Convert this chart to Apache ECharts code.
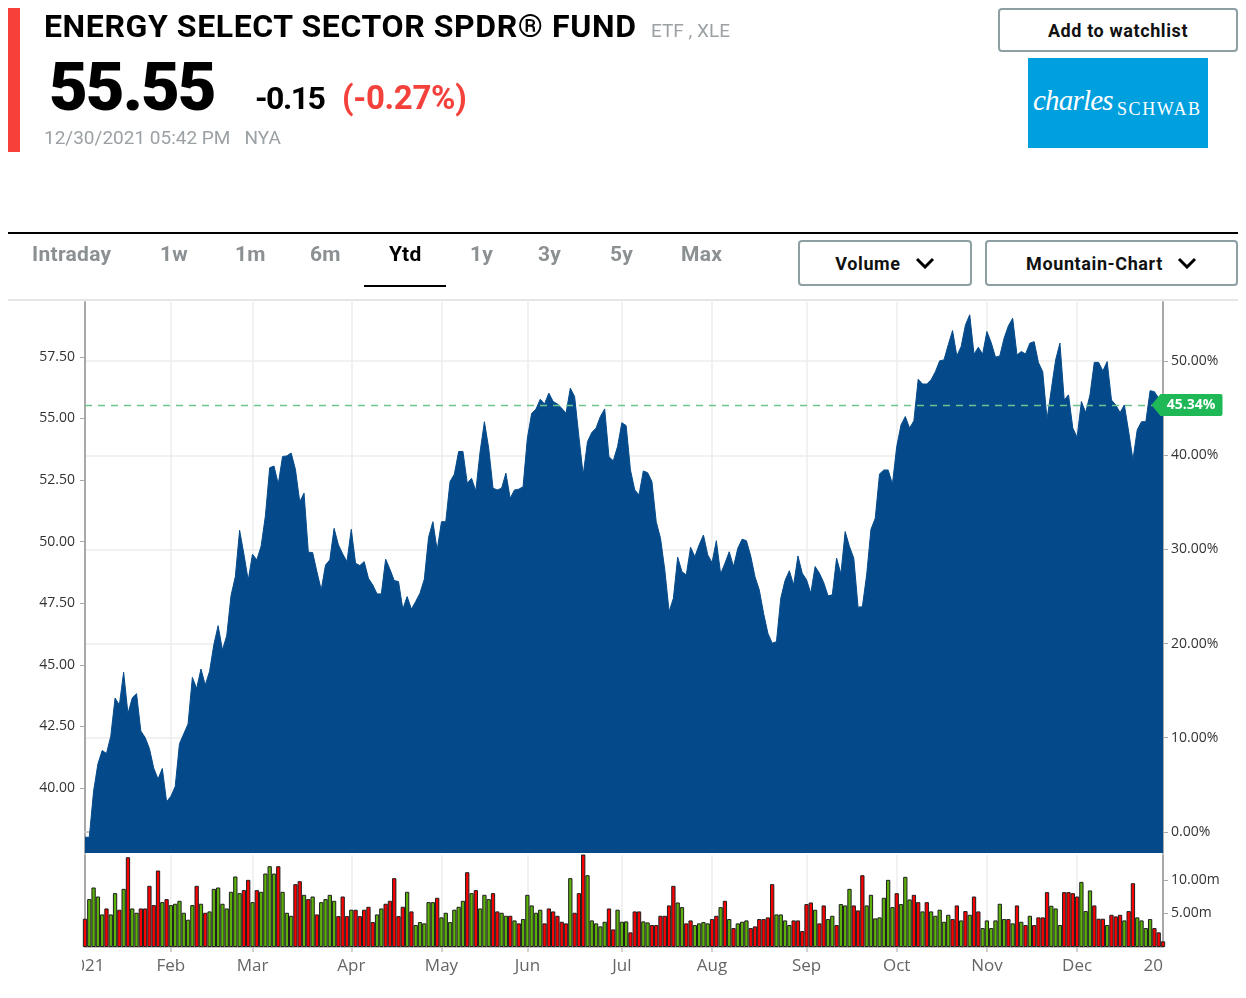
<!DOCTYPE html>
<html>
<head>
<meta charset="utf-8">
<title>XLE Ytd</title>
<script src="https://cdn.jsdelivr.net/npm/echarts@6/dist/echarts.min.js"></script>
<style>
    html, body {margin: 0; padding: 0; background: #fff;}
    body {width: 1246px; height: 998px; position: relative; overflow: hidden; font-family: Roboto, "Noto Sans", sans-serif;}
    #chart {position: absolute; left: 0; top: 0; width: 1246px; height: 998px;}
    .abs {position: absolute; white-space: nowrap; z-index: 2;}
    .redbar {left: 8px; top: 8px; width: 12px; height: 144px; background: #f8403a;}
    .title {left: 44px; top: 10px; font-size: 32px; line-height: 32px; font-weight: 700; color: #000; letter-spacing: 0.6px;}
    .kind {left: 651px; top: 21px; font-size: 19px; line-height: 19px; color: #9ba1a4;}
    .last {left: 49px; top: 54px; font-size: 67px; line-height: 67px; font-weight: 900; color: #000; letter-spacing: -2px;}
    .chg {left: 255px; top: 82px; font-size: 32px; line-height: 32px; font-weight: 700; color: #000; letter-spacing: -1.5px;}
    .pct {left: 342px; top: 81px; font-size: 33px; line-height: 33px; font-weight: 700; color: #f5413b; letter-spacing: -0.3px;}
    .stamp {left: 44px; top: 128px; font-size: 19px; line-height: 19px; color: #9ba1a4;}
    .btn {border: 2px solid #8e9fa4; border-radius: 4px; box-sizing: border-box; display: flex; align-items: center; justify-content: center; font-weight: 700; font-size: 18px; color: #111; letter-spacing: 0.6px; background: #fff;}
    .watch {left: 998px; top: 8px; width: 240px; height: 44px;}
    .logo {left: 1028px; top: 58px; width: 180px; height: 90px; background: #00a0df; color: #fff;}
    .logo .c {position: absolute; left: 5px; top: 28px; font-family: "Liberation Serif", "DejaVu Serif", serif; font-style: italic; font-size: 29px; line-height: 29px; letter-spacing: -0.8px;}
    .logo .s {position: absolute; left: 89px; top: 42px; font-family: "Liberation Serif", "DejaVu Serif", serif; font-size: 18px; line-height: 18px; letter-spacing: 1.6px;}
    .rule {left: 8px; top: 232px; width: 1230px; height: 2px; background: #000;}
    .rule2 {left: 8px; top: 299px; width: 1230px; height: 2px; background: #e6e6e6;}
    .tab {top: 244px; font-size: 21px; line-height: 21px; font-weight: 700; color: #8b9093; letter-spacing: 0.3px;}
    .tab.on {color: #000;}
    .uline {left: 364px; top: 285px; width: 82px; height: 2px; background: #000;}
    .drop {top: 240px; height: 46px;}
    .drop svg {margin-left: 14px;}
    .vol {left: 798px; width: 174px;}
    .mtn {left: 985px; width: 253px;}
</style>
</head>
<body>
<div class="abs redbar"></div>
<div class="abs title">ENERGY SELECT SECTOR SPDR® FUND</div>
<div class="abs kind">ETF , XLE</div>
<div class="abs last">55.55</div>
<div class="abs chg">-0.15</div>
<div class="abs pct">(-0.27%)</div>
<div class="abs stamp">12/30/2021 05:42 PM&nbsp;&nbsp; NYA</div>
<div class="abs btn watch">Add to watchlist</div>
<div class="abs logo"><span class="c">charles</span><span class="s">SCHWAB</span></div>
<div class="abs rule"></div>
<div class="abs tab" style="left:32px">Intraday</div>
<div class="abs tab" style="left:160px">1w</div>
<div class="abs tab" style="left:235px">1m</div>
<div class="abs tab" style="left:310px">6m</div>
<div class="abs tab on" style="left:389px">Ytd</div>
<div class="abs tab" style="left:470px">1y</div>
<div class="abs tab" style="left:538px">3y</div>
<div class="abs tab" style="left:610px">5y</div>
<div class="abs tab" style="left:681px">Max</div>
<div class="abs uline"></div>
<div class="abs btn drop vol">Volume<svg width="20" height="12" viewBox="0 0 20 12"><path d="M2 2 L10 10 L18 2" fill="none" stroke="#000" stroke-width="3"/></svg></div>
<div class="abs btn drop mtn">Mountain-Chart<svg width="20" height="12" viewBox="0 0 20 12"><path d="M2 2 L10 10 L18 2" fill="none" stroke="#000" stroke-width="3"/></svg></div>
<div class="abs rule2"></div>
<div id="chart"></div>
<script>
// NYSE closed days in 2021; the first point is the 2020 close
const firstDate = '2020-12-31';
const lastDate = '2021-12-30';
const holidays = ['2021-01-01', '2021-01-18', '2021-02-15', '2021-04-02', '2021-05-31',
    '2021-07-05', '2021-09-06', '2021-11-25', '2021-12-24'];
const monthNames = ['Jan', 'Feb', 'Mar', 'Apr', 'May', 'Jun', 'Jul', 'Aug', 'Sep', 'Oct', 'Nov', 'Dec'];
const startYearLabel = '2021';
const endYearLabel = '2022';

const baseClose = 38.22;
const lastClose = 55.55;

const close = [
    38.0, 38.0, 39.87, 40.97, 41.52, 41.4, 42.1, 43.65, 43.37, 44.7, 43.02, 43.65, 43.83, 42.31, 42.05,
    41.6, 40.81, 40.36, 40.79, 39.44, 39.66, 40.06, 41.8, 42.2, 42.6, 44.49, 44.04, 44.83, 44.18, 44.73,
    45.82, 46.59, 45.6, 46.18, 47.81, 48.58, 50.46, 49.49, 48.43, 49.49, 49.26, 49.81, 51.04, 53.0, 53.07,
    52.34, 53.46, 53.48, 53.6, 52.93, 51.62,
    51.97, 49.57, 49.56, 48.78, 48.04, 49.05, 49.26, 50.54, 49.87, 49.5, 49.19, 50.5, 49.12, 49.03, 49.19,
    48.51, 48.24, 47.88, 47.88, 49.29, 48.88, 48.42, 48.38, 47.26, 47.77, 47.26, 47.57, 47.91, 48.47, 50.18,
    50.81, 49.66, 50.81, 50.81, 52.44, 52.74, 53.66, 53.66, 52.37, 52.57, 52.06, 53.66, 54.87, 53.79, 52.17,
    52.1, 52.17, 52.78, 51.76,
    52.1, 52.13, 52.23, 54.2, 55.21, 55.38, 55.78, 55.59, 56.03, 55.69, 55.59, 55.42, 55.21, 56.23, 55.89,
    54.26, 52.71, 54.06, 54.43, 54.61, 55.08, 55.39, 53.45, 53.28, 53.86, 54.83, 54.71, 52.91, 52.1, 51.9,
    52.87, 52.8, 52.44, 50.81, 50.14, 48.85, 47.16, 47.7, 49.37, 48.78, 48.65, 49.77, 49.39, 49.87, 50.27,
    49.46, 49.15, 50.04, 48.69,
    49.12, 49.59, 48.99, 49.73, 50.1, 50.04, 49.42, 48.58, 48.04, 47.09, 46.28, 45.88, 45.94, 47.7, 48.42,
    48.82, 48.24, 49.42, 48.72, 48.45, 47.91, 48.99, 48.72, 48.34, 47.8, 47.84, 49.33, 48.69, 50.41, 49.8,
    49.33, 47.34, 47.36, 48.65, 50.5, 50.95, 52.75, 52.91, 52.91, 52.34, 53.86, 54.74, 55.08, 54.61, 54.91,
    56.59, 56.4, 56.4, 56.57,
    56.9, 57.34, 57.38, 57.99, 58.57, 57.54, 57.92, 58.8, 59.21, 57.61, 57.89, 57.61, 58.53, 58.08, 57.49,
    57.54, 58.26, 58.76, 59.07, 57.58, 57.72, 57.62, 58.06, 58.12, 57.27, 56.9, 54.97, 56.19, 57.38, 58.06,
    55.75, 55.96, 54.61, 54.24, 55.69, 55.24, 55.96, 57.28, 57.28, 56.93, 57.31, 55.75, 55.55, 55.24, 55.55,
    54.47, 53.32, 54.54, 54.87, 54.87, 56.13, 56.09, 55.82, 55.55,
];

// millions of shares
const volume = [
    4.21, 7.13, 8.86, 7.52, 4.85, 5.74, 4.85, 8.02, 5.55, 8.66, 13.37, 5.74, 5.1, 5.74, 5.74, 9.11, 6.24,
    11.39, 6.68, 7.13, 6.24, 6.44, 6.88, 5.1, 4.06, 6.24, 9.11, 6.44, 5.1, 5.3, 8.66, 8.86, 6.44, 5.74, 8.22,
    10.5, 8.02, 8.47, 10.0, 6.68, 8.47, 8.22, 10.94, 12.03, 10.94, 12.03, 8.22, 5.1, 4.65, 9.36, 9.8, 7.77,
    7.13, 7.52, 4.85, 6.68, 7.13, 7.77, 6.88, 4.6, 7.52, 4.6, 5.55, 5.55, 4.6, 5.55, 5.99, 3.71, 4.85, 5.74,
    6.44, 6.88, 10.25, 4.6, 5.99, 8.22, 5.3, 3.27, 3.71, 3.52, 6.68, 6.68, 7.33, 4.41, 5.1, 3.71, 5.55, 5.99,
    6.88, 11.14, 8.02, 8.47, 5.74, 7.77, 7.13, 8.02, 5.3, 5.1, 4.65, 4.65, 3.96, 3.52, 4.16, 7.77, 6.19, 5.1,
    5.55, 3.52, 5.74, 5.3, 4.65, 3.76, 3.52, 10.25, 5.1, 8.02, 13.86, 10.69, 3.96, 3.52, 3.07, 3.76, 5.74,
    2.62, 5.55, 3.76,
    3.81, 2.18, 5.3, 5.3, 3.81, 3.66, 3.27, 3.27, 4.65, 4.65, 6.19, 9.11, 6.63, 5.94, 3.52, 3.96, 3.27, 3.52,
    3.71, 3.52, 4.16, 4.65, 5.94, 6.88, 4.16, 2.82, 3.52, 3.76, 3.96, 2.82, 3.07, 4.16, 4.16, 4.41, 9.36,
    4.85, 4.85, 3.96, 3.27, 3.96, 3.96, 2.38, 6.39, 6.63, 5.55, 3.52, 6.19, 4.16, 4.65, 3.27, 6.39, 6.19,
    8.66, 6.19, 5.45, 10.69, 6.19, 7.77, 4.26, 4.41, 7.33, 10.0, 5.94, 8.02, 6.39, 10.45, 7.08, 7.77, 6.68,
    5.3, 6.68, 5.3, 4.65, 5.55, 3.76, 4.8, 4.16, 6.19, 3.96, 5.35, 4.8, 7.52, 5.3, 2.82, 3.96, 2.82, 3.96,
    6.44, 4.16, 4.16, 3.52, 6.19, 3.76, 3.27, 4.65, 3.27, 4.41, 4.41, 8.17, 6.14, 5.74, 3.27, 8.17, 8.17,
    8.02, 7.52, 9.7, 5.35, 8.42, 6.19, 4.21, 4.21, 3.27, 4.8, 4.56, 4.8, 3.96, 5.35, 9.5, 4.41, 3.96, 2.82,
    4.16, 2.82, 2.18, 0.84,
];

// u = up day (green bar), d = down day (red bar)
const volumeDirection =
    'duuuuduudu' + 'duudddddud' + 'uuuuuududu' + 'uuuuuuuddu' + 'duuuuduuud' + 'dududuuuud' +
    'dduddddduu' + 'ddddduduuu' + 'uuduuuuuud' + 'uduuudduud' + 'uduuuuuddd' + 'ddduddduuu' + 'uudduu' +
    'uddduudddd' + 'dduudduuuu' + 'ddududuuud' + 'ddddduuuud' + 'ddddudduud' + 'uuuddduuuu' +
    'uuuduuuddu' + 'duuuuuddu' + 'dudduuuuuu' + 'dudududddd' + 'uuudddduuu' + 'dddudddudd' + 'uuuuddd';

const priceMin = 37.36;
const priceMax = 59.73;
const priceTicks = [40, 42.5, 45, 47.5, 50, 52.5, 55, 57.5];
const pctTicks = [0, 10, 20, 30, 40, 50];
const volMax = 13.7;
const volTicks = [5, 10];

const blue = '#044a8a';
const upColor = '#5cb00a';
const downColor = '#fa0000';
const tagGreen = '#1fb857';
const axisFont = '"Open Sans", "Noto Sans", sans-serif';


function tradingDays() {
    const out = [firstDate];
    const d = new Date(firstDate + 'T00:00:00Z');
    d.setUTCDate(d.getUTCDate() + 1);
    const end = new Date(lastDate + 'T00:00:00Z').getTime();
    while (d.getTime() <= end) {
        const iso = d.toISOString().slice(0, 10);
        const wd = d.getUTCDay();
        if (wd !== 0 && wd !== 6 && !holidays.includes(iso)) {
            out.push(iso);
        }
        d.setUTCDate(d.getUTCDate() + 1);
    }
    return out;
}


const dates = tradingDays();
const lastIdx = dates.length - 1;
const monthStarts = new Set();
dates.forEach((d, i) => {
    if (i > 1 && d.slice(5, 7) !== dates[i - 1].slice(5, 7)) {
        monthStarts.add(i);
    }
});
const isLabelled = i => i === 0 || i === lastIdx || monthStarts.has(i);
const toPct = p => (p / baseClose - 1) * 100;

const chart = echarts.init(document.getElementById('chart'), null, {renderer: 'canvas'});

chart.setOption({
    animation: false,
    grid: [
        {left: 85, right: 83, top: 302, height: 551},
        {left: 85, right: 83, top: 855, height: 92},
    ],
    xAxis: [{
        type: 'category',
        gridIndex: 0,
        data: dates,
        boundaryGap: false,
        axisLine: {lineStyle: {color: '#cacaca', width: 2}},
        axisTick: {show: false},
        axisLabel: {show: false},
        splitLine: {show: true, interval: i => monthStarts.has(i), lineStyle: {color: '#ececec', width: 1.5}},
    }, {
        type: 'category',
        gridIndex: 1,
        data: dates,
        boundaryGap: false,
        axisLine: {lineStyle: {color: '#c4c4c4', width: 2}},
        axisTick: {show: true, interval: i => monthStarts.has(i), length: 5, lineStyle: {color: '#c4c4c4', width: 1.5}},
        axisLabel: {
            interval: isLabelled,
            formatter: (v, i) => i === 0 ? startYearLabel : i === lastIdx ? endYearLabel : monthNames[+v.slice(5, 7) - 1],
            color: '#666',
            fontSize: 17,
            fontFamily: axisFont,
            margin: 11,
        },
        splitLine: {show: true, interval: i => monthStarts.has(i), lineStyle: {color: '#ececec', width: 1.5}},
    }],
    yAxis: [{
        type: 'value',
        gridIndex: 0,
        position: 'left',
        min: priceMin,
        max: priceMax,
        axisLine: {show: true, lineStyle: {color: '#a8a8a8', width: 2}},
        axisTick: {show: true, customValues: priceTicks, length: 5, lineStyle: {color: '#a8a8a8'}},
        axisLabel: {customValues: priceTicks, formatter: v => v.toFixed(2), color: '#333', fontSize: 14, fontFamily: axisFont, margin: 10},
        splitLine: {show: false},
    }, {
        type: 'value',
        gridIndex: 0,
        position: 'right',
        min: toPct(priceMin),
        max: toPct(priceMax),
        axisLine: {show: true, lineStyle: {color: '#a8a8a8', width: 2}},
        axisTick: {show: true, customValues: pctTicks, length: 5, lineStyle: {color: '#a8a8a8'}},
        axisLabel: {customValues: pctTicks, formatter: v => v.toFixed(2) + '%', color: '#333', fontSize: 14, fontFamily: axisFont, margin: 8},
        splitLine: {show: true, lineStyle: {color: '#ececec', width: 1.5}},
    }, {
        type: 'value',
        gridIndex: 1,
        position: 'right',
        min: 0,
        max: volMax,
        axisLine: {show: true, lineStyle: {color: '#a8a8a8', width: 2}},
        axisTick: {show: true, customValues: volTicks, length: 5, lineStyle: {color: '#a8a8a8'}},
        axisLabel: {customValues: volTicks, formatter: v => v.toFixed(2) + 'm', color: '#333', fontSize: 14, fontFamily: axisFont, margin: 8},
        splitLine: {show: false},
    }, {
        type: 'value',
        gridIndex: 1,
        position: 'left',
        min: 0,
        max: volMax,
        axisLine: {show: true, lineStyle: {color: '#a8a8a8', width: 2}},
        axisTick: {show: false},
        axisLabel: {show: false},
        splitLine: {show: false},
    }],
    series: [{
        type: 'line',
        name: 'XLE',
        xAxisIndex: 0,
        yAxisIndex: 0,
        data: close,
        showSymbol: false,
        silent: true,
        lineStyle: {color: blue, width: 1},
        areaStyle: {color: blue, opacity: 1},
        markLine: {
            silent: true,
            symbol: 'none',
            data: [{yAxis: lastClose}],
            lineStyle: {color: '#6ec48f', type: [7, 6], width: 1.3},
            label: {show: false},
        },
        markPoint: {
            silent: true,
            symbol: 'path://M0,11 L9,0 L69,0 Q71,0 71,2 L71,20 Q71,22 69,22 L9,22 Z',
            symbolSize: [71, 22],
            symbolKeepAspect: false,
            symbolOffset: [24, 0],
            itemStyle: {color: tagGreen},
            label: {
                show: true,
                position: 'inside',
                offset: [4, 0],
                formatter: () => toPct(lastClose).toFixed(2) + '%',
                color: '#fff',
                fontSize: 14,
                fontWeight: 'bold',
                fontFamily: axisFont,
            },
            data: [{coord: [lastIdx, lastClose]}],
        },
    }, {
        type: 'bar',
        name: 'Volume',
        xAxisIndex: 1,
        yAxisIndex: 2,
        silent: true,
        barCategoryGap: '0%',
        data: volume.map((v, i) => ({
            value: v,
            itemStyle: {color: volumeDirection[i] === 'u' ? upColor : downColor},
        })),
        itemStyle: {borderColor: '#1e1e1e', borderWidth: 1},
    }],
    graphic: [
        // the first and last axis labels are cut off at the plot edges
        {type: 'rect', left: 0, top: 952, z: 100, shape: {width: 82, height: 40}, style: {fill: '#fff'}},
        {type: 'rect', left: 1164, top: 952, z: 100, shape: {width: 82, height: 40}, style: {fill: '#fff'}},
    ],
});
</script>
</body>
</html>
